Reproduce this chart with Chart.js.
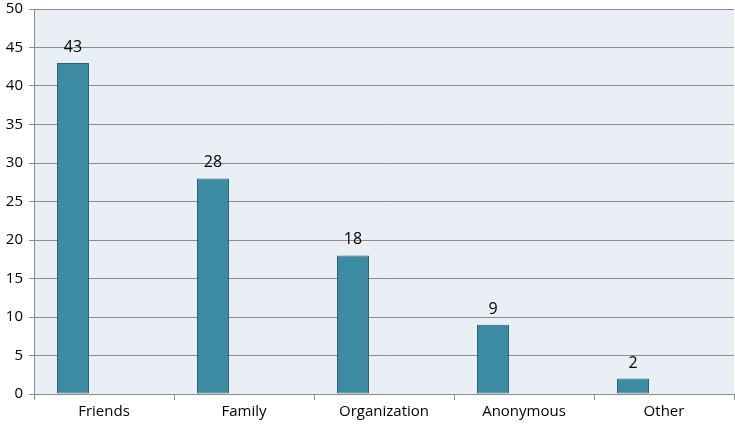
<!DOCTYPE html>
<html>
<head>
<meta charset="utf-8">
<script src="https://cdn.jsdelivr.net/npm/chart.js@4/dist/chart.umd.min.js"></script>
<style>
  html, body { margin: 0; padding: 0; background: #fff; }
  #wrap { width: 735px; height: 425px; }
</style>
</head>
<body>
<div id="wrap"><canvas id="chart"></canvas></div>
<script>
const categories = ["Friends", "Family", "Organization", "Anonymous", "Other"]
const counts = [43, 28, 18, 9, 2]
const blank = [null, null, null, null, null]
const yTicks = [0, 5, 10, 15, 20, 25, 30, 35, 40, 45, 50]

const plotBg = {
  id: "plotBg",
  beforeDraw(chart) {
    const { ctx, chartArea: a } = chart
    ctx.save()
    ctx.fillStyle = "#E9EFF4"
    ctx.fillRect(a.left, a.top, a.right - a.left, a.bottom - a.top)
    ctx.restore()
  }
}

const valueLabels = {
  id: "valueLabels",
  afterDatasetsDraw(chart) {
    const { ctx } = chart
    const meta = chart.getDatasetMeta(0)
    ctx.save()
    ctx.font = "16px 'Open Sans', sans-serif"
    ctx.fillStyle = "#000"
    ctx.textAlign = "center"
    ctx.textBaseline = "alphabetic"
    meta.data.forEach((bar, i) => {
      ctx.fillText(String(counts[i]), bar.x, bar.y - 11)
    })
    ctx.restore()
  }
}

new Chart(document.getElementById("chart"), {
  type: "bar",
  data: {
    labels: categories,
    datasets: [{
      data: counts,
      backgroundColor: "#3D8BA3",
      borderColor: "#2A6478",
      borderWidth: 1,
      borderSkipped: false,
      barPercentage: 0.516,
      categoryPercentage: 0.886
    }, {
      data: blank,
      barPercentage: 0.516,
      categoryPercentage: 0.886
    }]
  },
  options: {
    responsive: true,
    maintainAspectRatio: false,
    animation: false,
    layout: { padding: { top: 9, right: 1, left: 0, bottom: 0 } },
    plugins: {
      legend: { display: false },
      tooltip: { enabled: false }
    },
    scales: {
      x: {
        grid: {
          offset: true,
          drawOnChartArea: false,
          drawTicks: true,
          tickLength: 6,
          color: "#8C8C8C"
        },
        border: { color: "#8C8C8C" },
        ticks: {
          color: "#000",
          padding: 3,
          maxRotation: 0,
          font: { family: "'Open Sans', sans-serif", size: 15 }
        },
        afterFit(scale) {
          scale.height = 31
          scale.paddingLeft = 0
          scale.paddingRight = 0
        }
      },
      y: {
        min: 0,
        max: 50,
        afterBuildTicks(scale) { scale.ticks = yTicks.map(v => ({ value: v })) },
        grid: {
          color: "#8C8C8C",
          tickLength: 5
        },
        border: { color: "#8C8C8C" },
        ticks: {
          color: "#000",
          padding: 6,
          font: { family: "'Open Sans', sans-serif", size: 15 }
        },
        afterFit(scale) {
          scale.width = 34
          scale.paddingTop = 0
          scale.paddingBottom = 0
        }
      }
    }
  },
  plugins: [plotBg, valueLabels]
})
</script>
</body>
</html>
